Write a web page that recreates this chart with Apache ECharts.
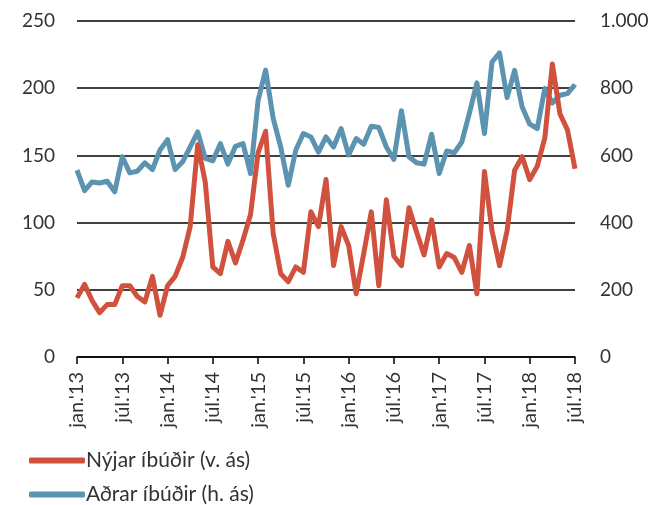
<!DOCTYPE html>
<html>
<head>
<meta charset="utf-8">
<script src="https://cdn.jsdelivr.net/npm/echarts@6/dist/echarts.min.js"></script>
<style>
html,body{margin:0;padding:0;background:#fff;}
#chart{width:670px;height:505px;}
</style>
</head>
<body>
<div id="chart"></div>
<script>
const monthNames = ["jan.","feb.","mar.","apr.","maí","jún.","júl.","ágú.","sep.","okt.","nóv.","des."];
const years = ["13","14","15","16","17","18"];
const monthsInLastYear = 7;

const newFlats = [44,54,42,33,39,39,53,53,45,41,60,31,53,60,74,97,158,130,67,62,86,70,87,106,152,168,92,62,56,67,63,108,97,132,68,97,83,47,77,108,53,117,75,68,111,93,76,102,67,77,74,63,83,47,138,94,68,94,139,149,132,142,163,218,181,169,140];
const otherFlats = [556,495,521,518,523,492,596,548,553,578,558,616,647,558,581,625,670,591,584,635,574,627,635,546,764,854,710,625,511,616,665,655,610,655,625,680,601,650,633,687,683,625,588,733,596,578,574,663,546,613,608,640,725,816,665,878,905,772,853,744,693,680,799,756,779,784,811];

const leftTicks = {min:0, max:250, interval:50};
const rightTicks = {min:0, max:1000, interval:200};
const seriesNames = ["Nýjar íbúðir (v. ás)", "Aðrar íbúðir (h. ás)"];

const categories = [];
years.forEach((y, yi) => {
  const n = (yi === years.length - 1) ? monthsInLastYear : 12;
  for (let m = 0; m < n; m++) categories.push(monthNames[m] + "'" + y);
});

const FONT = "Lato";
const TXT = "#333";
const legendBase = {
  orient:'horizontal', left:24,
  itemWidth:56, itemHeight:6, icon:'roundRect',
  textStyle:{fontFamily:FONT, fontSize:21, color:TXT, padding:[0,0,0,-4]}
};
const chart = echarts.init(document.getElementById('chart'), null, {renderer:'canvas'});
chart.setOption({
  animation:false,
  backgroundColor:'#fff',
  grid:{left:77, right:95, top:21, bottom:148, containLabel:false},
  legend:[
    Object.assign({}, legendBase, {top:445, data:[seriesNames[0]]}),
    Object.assign({}, legendBase, {top:479, data:[seriesNames[1]]})
  ],
  xAxis:{
    type:'category', data:categories, boundaryGap:false,
    axisLine:{lineStyle:{color:'#000', width:1.5}},
    axisTick:{interval:5, length:7, lineStyle:{color:'#000', width:1.5}},
    axisLabel:{interval:5, rotate:90, fontFamily:FONT, fontSize:20, color:TXT, margin:15},
    splitLine:{show:false}
  },
  yAxis:[
    {type:'value', min:leftTicks.min, max:leftTicks.max, interval:leftTicks.interval,
     axisLine:{show:false}, axisTick:{show:false},
     axisLabel:{fontFamily:FONT, fontSize:19, color:TXT, margin:22},
     splitLine:{lineStyle:{color:'#000', width:1.5}}},
    {type:'value', min:rightTicks.min, max:rightTicks.max, interval:rightTicks.interval,
     axisLine:{show:false}, axisTick:{show:false},
     axisLabel:{fontFamily:FONT, fontSize:19, color:TXT, margin:25,
       formatter:v => v >= 1000 ? String(v).replace(/\B(?=(\d{3})+(?!\d))/g, '.') : String(v)},
     splitLine:{show:false}}
  ],
  series:[
    {name:seriesNames[0], type:'line', yAxisIndex:0, data:newFlats, showSymbol:false,
     lineStyle:{color:'#d0513d', width:5, join:'round'}, itemStyle:{color:'#d0513d'}},
    {name:seriesNames[1], type:'line', yAxisIndex:1, data:otherFlats, showSymbol:false,
     lineStyle:{color:'#5b93b1', width:5, join:'round'}, itemStyle:{color:'#5b93b1'}, z:1}
  ]
});
</script>
</body>
</html>
